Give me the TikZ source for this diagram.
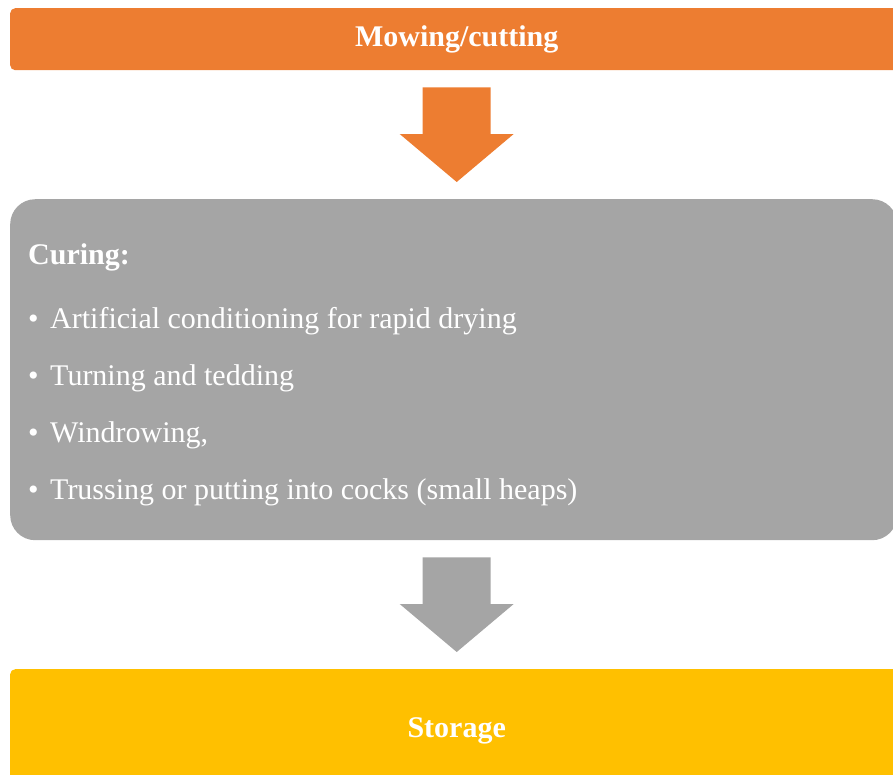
\documentclass[tikz,border=0pt]{standalone}
\usepackage{fontspec}
\setmainfont{Liberation Serif}
\usetikzlibrary{calc}

\definecolor{moworange}{HTML}{ED7D31}
\definecolor{curegray}{HTML}{A5A5A5}
\definecolor{storeyellow}{HTML}{FFC000}

\tikzset{
    stagebox/.style={rounded corners=5pt, inner sep=0pt, minimum width=893pt,
        anchor=north west, text=white, font=\bfseries\fontsize{30}{36}\selectfont},
    curebox/.style={fill=curegray, rounded corners=25pt, inner sep=0pt,
        minimum width=887pt, minimum height=341pt, anchor=north west},
    curetext/.style={anchor=base west, inner sep=0pt, text=white,
        font=\fontsize{30}{36}\selectfont}
}

% block arrow from #1 down to #2
\newcommand{\flowarrow}[3]{
    \fill[#3] ($(#1)+(-34,17)$) -- ($(#1)+(34,17)$) -- ($(#2)+(34,-65)$)
        -- ($(#2)+(57,-65)$) -- ($(#2)+(0,-17)$) -- ($(#2)+(-57,-65)$)
        -- ($(#2)+(-34,-65)$) -- cycle;
}

\begin{document}
\begin{tikzpicture}[x=1pt,y=-1pt]

    \useasboundingbox (0,0) rectangle (893,774);
    \clip (0,0) rectangle (893,774);

    % Etapas
    \node[stagebox, fill=moworange, minimum height=62pt] (mow) at (10,8) {Mowing/cutting};
    \node[curebox] (curing) at (10,199) {};
    \node[stagebox, fill=storeyellow, minimum height=124pt] (store) at (10,669) {Storage};

    % Texto del curado
    \node[curetext, font=\bfseries\fontsize{30}{36}\selectfont] (curetitle)
        at ($(curing.north west)+(18,65)$) {Curing:};
    \foreach \entry [count=\i] in {
        Artificial conditioning for rapid drying,
        Turning and tedding,
        {Windrowing,},
        Trussing or putting into cocks (small heaps)
    }
    \node[curetext] (entry\i) at ($(curing.north west)+(18,{72+57*\i})$)
        {\makebox[22pt][l]{\textbullet}\entry};

    % Flechas
    \flowarrow{mow.south}{mow.south |- curing.north}{moworange}
    \flowarrow{store.north |- curing.south}{store.north}{curegray}

\end{tikzpicture}
\end{document}
